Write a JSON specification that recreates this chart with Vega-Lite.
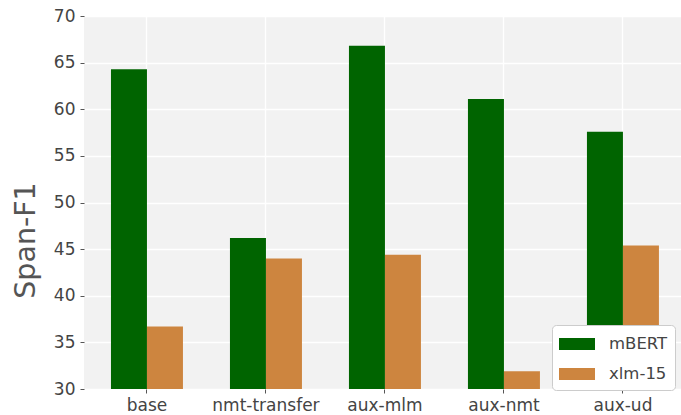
{
  "$schema": "https://vega.github.io/schema/vega-lite/v6.json",
  "width": 597,
  "height": 373,
  "autosize": {"type": "none"},
  "padding": {"left": 84, "top": 16, "right": 0, "bottom": 26},
  "background": "white",
  "config": {
    "view": {"fill": "#f2f2f2", "stroke": null},
    "font": "DejaVu Sans"
  },
  "data": {
    "values": [
      {"setting": "base", "model": "mBERT", "f1": 64.3},
      {"setting": "base", "model": "xlm-15", "f1": 36.7},
      {"setting": "nmt-transfer", "model": "mBERT", "f1": 46.2},
      {"setting": "nmt-transfer", "model": "xlm-15", "f1": 44.0},
      {"setting": "aux-mlm", "model": "mBERT", "f1": 66.8},
      {"setting": "aux-mlm", "model": "xlm-15", "f1": 44.4},
      {"setting": "aux-nmt", "model": "mBERT", "f1": 61.1},
      {"setting": "aux-nmt", "model": "xlm-15", "f1": 31.9},
      {"setting": "aux-ud", "model": "mBERT", "f1": 57.6},
      {"setting": "aux-ud", "model": "xlm-15", "f1": 45.4}
    ]
  },
  "mark": {"type": "bar", "clip": true},
  "encoding": {
    "x": {
      "field": "setting",
      "type": "nominal",
      "sort": ["base", "nmt-transfer", "aux-mlm", "aux-nmt", "aux-ud"],
      "scale": {"paddingInner": 0.395, "paddingOuter": 0.206, "align": 0.55},
      "axis": {
        "title": null,
        "labelAngle": 0,
        "labelFontSize": 17,
        "labelColor": "#444444",
        "labelPadding": 4,
        "tickSize": 4,
        "tickColor": "#555555",
        "domain": false,
        "grid": true,
        "gridColor": "white",
        "gridWidth": 1.3,
        "bandPosition": 0.5
      }
    },
    "xOffset": {
      "field": "model",
      "type": "nominal",
      "scale": {"paddingInner": 0, "paddingOuter": 0}
    },
    "y": {
      "field": "f1",
      "type": "quantitative",
      "scale": {"domain": [30, 70], "nice": false, "zero": false},
      "axis": {
        "title": "Span-F1",
        "titleFontSize": 28.5,
        "titleFontWeight": "normal",
        "titleColor": "#555555",
        "titlePadding": 13,
        "titleY": 224,
        "values": [30, 35, 40, 45, 50, 55, 60, 65, 70],
        "labelFontSize": 17,
        "labelColor": "#444444",
        "labelPadding": 5,
        "tickSize": 4,
        "tickColor": "#555555",
        "domain": false,
        "grid": true,
        "gridColor": "white",
        "gridWidth": 1.3
      }
    },
    "color": {
      "field": "model",
      "type": "nominal",
      "scale": {"domain": ["mBERT", "xlm-15"], "range": ["#006400", "#cd853f"]},
      "legend": {
        "title": null,
        "orient": "none",
        "legendX": 468,
        "legendY": 309,
        "padding": 7,
        "fillColor": "white",
        "strokeColor": "#cccccc",
        "cornerRadius": 4,
        "symbolType": "M-1.5,-0.5h3v1h-3z",
        "symbolSize": 576,
        "symbolOffset": 6,
        "symbolStrokeWidth": 0,
        "symbolOpacity": 1,
        "labelFontSize": 16.5,
        "labelColor": "#444444",
        "labelOffset": 20,
        "rowPadding": 9
      }
    }
  }
}
